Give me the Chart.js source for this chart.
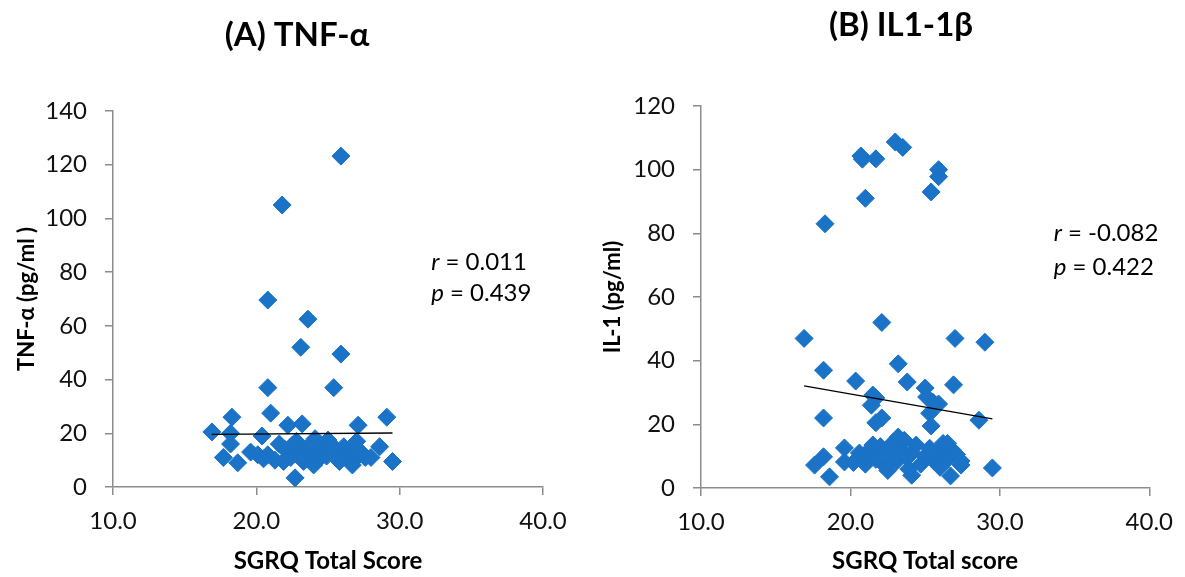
<!DOCTYPE html>
<html>
<head>
<meta charset="utf-8">
<script src="https://cdn.jsdelivr.net/npm/chart.js@4"></script>
<style>
  body { margin: 0; background: #fff; }
  .panel { position: absolute; top: 0; }
</style>
</head>
<body>
<div class="panel" style="left:0"><canvas id="tnf" width="580" height="577"></canvas></div>
<div class="panel" style="left:580px"><canvas id="il1" width="605" height="577"></canvas></div>
<script>
// SGRQ total score vs TNF-alpha
var tnfX = [25.9, 21.8, 20.8, 23.6, 23.1, 25.9, 20.8, 25.4,
  18.3, 21.0, 29.1, 16.9, 22.2, 23.2, 27.1, 20.4, 18.2, 18.2, 19.6, 17.7, 18.7, 28.6, 29.5, 22.7,
  20.8, 21.3, 21.6, 22.0, 22.4, 22.8, 23.0, 23.3, 23.6, 23.9, 24.1, 24.3, 24.6, 24.9, 25.2, 25.5,
  25.8, 26.1, 26.4, 26.8, 27.0, 27.3, 27.6, 24.0, 22.5, 21.9, 25.0, 23.5, 20.5, 26.9, 28.0, 26.7, 24.0, 20.1];
var tnfY = [123.2, 105, 69.6, 62.5, 52, 49.5, 37, 37,
  26, 27.5, 26, 20.5, 23, 23.5, 23, 19, 20, 16, 13, 11, 9, 15, 9.5, 3.4,
  12, 10, 16, 14, 11, 17, 13, 9.5, 15, 12, 18, 10, 14, 11.5, 16, 13,
  9.5, 15, 12, 10, 17, 13, 11, 16, 15.5, 9.5, 17.5, 11, 10.5, 14, 11, 8.2, 8.2, 12];
var tnfTrendX = [16.9, 29.5];
var tnfTrendY = [19.6, 20.1];

// SGRQ total score vs IL-1
var ilX = [23.0, 23.5, 20.7, 20.8, 21.7, 25.9, 25.9, 25.4, 21.0, 18.3, 22.1, 16.9, 27.0, 29.0,
  23.2, 18.2, 20.35, 23.8, 26.9, 25.0, 21.5, 21.7, 25.1, 25.9, 25.5, 21.4, 25.3, 28.6, 18.2, 22.1, 21.7, 25.4,
  19.6, 18.2, 17.6, 19.6, 18.6, 29.5, 24.1, 26.7, 27.4,
  20.2, 20.6, 21.0, 21.4, 21.7, 22.0, 22.3, 22.6, 22.9, 23.1, 23.4, 23.6, 23.8, 24.1, 24.4, 24.7,
  25.0, 25.3, 25.6, 25.9, 26.2, 26.5, 26.8, 27.1, 27.4, 22.5, 23.9, 20.9, 26.0, 23.2, 26.5, 21.5];
var ilY = [108.7, 107, 104.3, 103.3, 103.4, 100, 97.8, 93, 91, 83, 52, 47, 47, 45.8,
  39, 37, 33.6, 33.3, 32.4, 31.4, 29.2, 28.3, 28.6, 26.4, 27, 26, 23.5, 21.3, 22, 22, 20.5, 19.5,
  12.6, 9.8, 7.2, 8.2, 3.5, 6.3, 4, 3.8, 7.2,
  8, 11, 7.5, 12.5, 9, 13, 7, 10.5, 14.5, 8.5, 12, 15, 9.5, 11, 13.5, 7.5,
  10, 12.5, 8.5, 11.5, 14, 9, 12, 10.5, 8.5, 5.5, 6, 10, 6.5, 16, 14, 13.5];
var ilTrendX = [16.9, 29.5];
var ilTrendY = [32.1, 21.7];

var xTicks = [10, 20, 30, 40];

var blue = "#1a73c6";
var fam = "Lato, 'Open Sans', sans-serif";
var tickFont = { family: fam, size: 24 };
var boldFont = { family: fam, size: 24, weight: "bold" };

function toPoints(xs, ys) {
  return xs.map(function (x, i) { return { x: x, y: ys[i] }; });
}

// panel title + r/p text, placed through the scales
var textPlugin = {
  id: "panelText",
  afterDatasetsDraw: function (chart, args, opts) {
    var ctx = chart.ctx;
    var xs = chart.scales.x, ys = chart.scales.y;
    ctx.save();
    ctx.fillStyle = "#000";
    ctx.textBaseline = "middle";
    ctx.font = "bold 33px " + fam;
    ctx.textAlign = "center";
    ctx.fillText(opts.title, opts.titleX, opts.titleY);
    ctx.textAlign = "left";
    opts.stats.forEach(function (s) {
      var px = xs.getPixelForValue(opts.statX);
      var py = ys.getPixelForValue(s.y);
      ctx.font = "italic 24px " + fam;
      ctx.fillText(s.label, px, py);
      var w = ctx.measureText(s.label).width;
      ctx.font = "24px " + fam;
      ctx.fillText(s.text, px + w, py);
    });
    ctx.restore();
  }
};

function makeChart(id, cfg) {
  return new Chart(document.getElementById(id), {
    type: "scatter",
    data: {
      datasets: [
        {
          type: "line",
          data: toPoints(cfg.trendX, cfg.trendY),
          borderColor: "#000",
          borderWidth: 1.3,
          pointRadius: 0,
          fill: false,
          order: 0
        },
        {
          data: toPoints(cfg.xs, cfg.ys),
          pointStyle: "rectRot",
          pointRadius: 9,
          pointHoverRadius: 9,
          backgroundColor: blue,
          borderColor: blue,
          borderWidth: 1,
          order: 1
        }
      ]
    },
    plugins: [textPlugin],
    options: {
      responsive: false,
      animation: false,
      layout: { padding: { top: cfg.top, right: cfg.right, left: 0, bottom: 0 } },
      plugins: {
        legend: { display: false },
        tooltip: { enabled: false },
        panelText: { title: cfg.title, titleX: cfg.titleX, titleY: cfg.titleY, statX: cfg.statX, stats: cfg.stats }
      },
      scales: {
        x: {
          type: "linear",
          min: 10,
          max: 40,
          afterBuildTicks: function (s) { s.ticks = xTicks.map(function (v) { return { value: v }; }); },
          afterFit: function (s) { s.height = 577 - cfg.bottomPx; },
          grid: { drawOnChartArea: false, tickLength: 8, color: "#8c8c8c", lineWidth: 1.5 },
          border: { color: "#8c8c8c", width: 1.5 },
          ticks: { font: tickFont, color: "#111", padding: 12, callback: function (v) { return v.toFixed(1); } },
          title: { display: true, text: cfg.xTitle, font: boldFont, color: "#000", padding: { top: 0, bottom: 1 } }
        },
        y: {
          min: 0,
          max: cfg.yMax,
          afterFit: function (s) { s.width = cfg.leftPx; },
          grid: { drawOnChartArea: false, tickLength: 8, color: "#8c8c8c", lineWidth: 1.5 },
          border: { color: "#8c8c8c", width: 1.5 },
          ticks: { font: tickFont, color: "#111", padding: 18, stepSize: 20 },
          title: { display: true, text: cfg.yTitle, font: { family: fam, size: 22, weight: "bold" }, color: "#000", padding: { top: cfg.yTitlePad, bottom: 0 } }
        }
      }
    }
  });
}

makeChart("tnf", {
  xs: tnfX, ys: tnfY, trendX: tnfTrendX, trendY: tnfTrendY,
  yMax: 140, top: 111, right: 37, leftPx: 113, bottomPx: 487,
  title: "(A) TNF-\u03b1", titleX: 297, titleY: 35,
  xTitle: "SGRQ Total Score", yTitle: "TNF-\u03b1 (pg/ml )", yTitlePad: 14,
  statX: 32.2, stats: [{ label: "r", text: " = 0.011", y: 83.8 }, { label: "p", text: " = 0.439", y: 72.2 }]
});

makeChart("il1", {
  xs: ilX, ys: ilY, trendX: ilTrendX, trendY: ilTrendY,
  yMax: 120, top: 106, right: 32, leftPx: 121, bottomPx: 488,
  title: "(B) IL1-1\u03b2", titleX: 321, titleY: 25,
  xTitle: "SGRQ Total score", yTitle: "IL-1 (pg/ml)", yTitlePad: 20,
  statX: 33.6, stats: [{ label: "r", text: " = -0.082", y: 80.1 }, { label: "p", text: " = 0.422", y: 69.4 }]
});
</script>
</body>
</html>
